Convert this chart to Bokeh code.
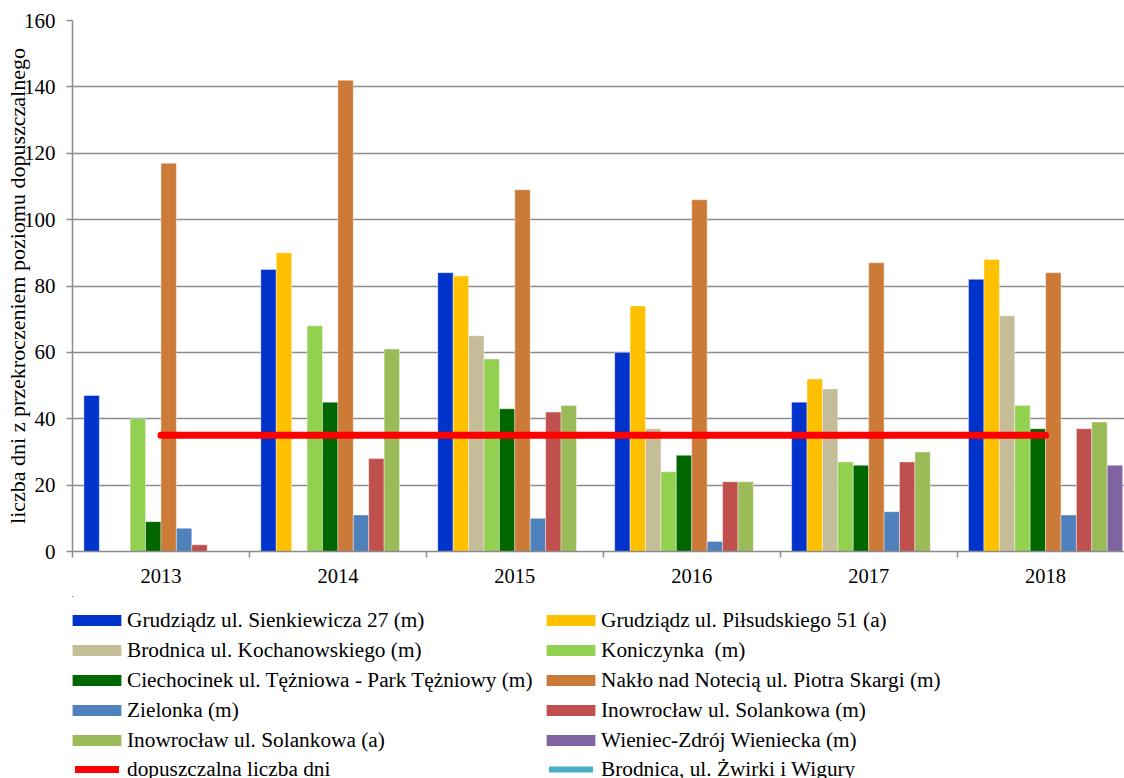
import numpy as np
from bokeh.plotting import figure
from bokeh.layouts import column
from bokeh.models import Range1d, FixedTicker, Legend, LegendItem, ColumnDataSource
from bokeh.transform import dodge
from bokeh.embed import file_html
from bokeh.resources import INLINE

nan = np.nan

years = ["2013", "2014", "2015", "2016", "2017", "2018"]

series_names = [
    "Grudziądz ul. Sienkiewicza 27 (m)",
    "Grudziądz ul. Piłsudskiego 51 (a)",
    "Brodnica ul. Kochanowskiego (m)",
    "Koniczynka  (m)",
    "Ciechocinek ul. Tężniowa - Park Tężniowy (m)",
    "Nakło nad Notecią ul. Piotra Skargi (m)",
    "Zielonka (m)",
    "Inowrocław ul. Solankowa (m)",
    "Inowrocław ul. Solankowa (a)",
    "Wieniec-Zdrój Wieniecka (m)",
]

sienkiewicza = [47, 85, 84, 60, 45, 82]
pilsudskiego = [nan, 90, 83, 74, 52, 88]
kochanowskiego = [nan, nan, 65, 37, 49, 71]
koniczynka = [40, 68, 58, 24, 27, 44]
ciechocinek = [9, 45, 43, 29, 26, 37]
naklo = [117, 142, 109, 106, 87, 84]
zielonka = [7, 11, 10, 3, 12, 11]
inowroclaw_m = [2, 28, 42, 21, 27, 37]
inowroclaw_a = [nan, 61, 44, 21, 30, 39]
wieniec = [nan, nan, nan, nan, nan, 26]

limit_name = "dopuszczalna liczba dni"
limit_days = [35, 35, 35, 35, 35, 35]

brodnica_zwirki_name = "Brodnica, ul. Żwirki i Wigury"
brodnica_zwirki = [nan, nan, nan, nan, nan, nan]

y_ticks = [0, 20, 40, 60, 80, 100, 120, 140, 160]

series_values = [sienkiewicza, pilsudskiego, kochanowskiego, koniczynka, ciechocinek,
                 naklo, zielonka, inowroclaw_m, inowroclaw_a, wieniec]
colors = ["#0033CC", "#FFC000", "#C4BD97", "#92D050", "#006600",
          "#CC7A38", "#4F81BD", "#C0504D", "#9BBB59", "#8064A2"]

FONT = "Liberation Serif"
GRID = "#8C8C8C"

x_centers = [i + 0.5 for i in range(len(years))]
data = {"x": x_centers}
for i, vals in enumerate(series_values):
    data[f"s{i}"] = vals
data["limit"] = limit_days
data["brod"] = brodnica_zwirki
src = ColumnDataSource(data)

CHART_H = 596
FRAME_LEFT = 72
p = figure(width=1124, height=CHART_H, output_backend="svg", toolbar_location=None,
           x_range=Range1d(0, 5.946), y_range=Range1d(0, 160),
           min_border_left=FRAME_LEFT, min_border_right=0, min_border_top=20,
           min_border_bottom=45)
p.outline_line_color = None
p.background_fill_color = "white"

bw = 0.0871
n = len(series_values)
for i, c in enumerate(colors):
    off = (i - (n - 1) / 2) * bw
    p.vbar(x=dodge("x", off, range=p.x_range), top=f"s{i}", width=bw, bottom=0,
           source=src, fill_color=c, line_color="white", line_width=0.8, line_alpha=0.5)

p.line(x="x", y="limit", source=src, line_color="#FF0000", line_width=7, line_cap="round")
p.line(x="x", y="brod", source=src, line_color="#4BACC6", line_width=6, line_cap="round")

# y axis
p.yaxis.ticker = FixedTicker(ticks=y_ticks)
p.yaxis.axis_label = "liczba dni z przekroczeniem poziomu dopuszczalnego"
p.yaxis.axis_label_text_font = FONT
p.yaxis.axis_label_text_font_style = "normal"
p.yaxis.axis_label_text_font_size = "22px"
p.yaxis.axis_label_text_color = "black"
p.yaxis.axis_label_standoff = -9
p.yaxis.major_label_text_font = FONT
p.yaxis.major_label_text_font_size = "21px"
p.yaxis.major_label_text_color = "black"
p.yaxis.major_label_standoff = 11
p.yaxis.major_tick_out = 6
p.yaxis.major_tick_in = 0
p.yaxis.minor_tick_line_color = None
p.yaxis.axis_line_color = GRID
p.yaxis.axis_line_width = 1.5
p.yaxis.major_tick_line_color = GRID
p.yaxis.major_tick_line_width = 1.5

# x axis
p.xaxis.ticker = FixedTicker(ticks=x_centers, minor_ticks=list(range(len(years) + 1)))
p.xaxis.major_label_overrides = {x: y for x, y in zip(x_centers, years)}
p.xaxis.major_label_text_font = FONT
p.xaxis.major_label_text_font_size = "20.5px"
p.xaxis.major_label_text_color = "black"
p.xaxis.major_label_standoff = 11
p.xaxis.major_tick_line_color = None
p.xaxis.major_tick_out = 6
p.xaxis.minor_tick_out = 6
p.xaxis.minor_tick_in = 0
p.xaxis.minor_tick_line_color = GRID
p.xaxis.minor_tick_line_width = 1.5
p.xaxis.axis_line_color = GRID
p.xaxis.axis_line_width = 1.5

p.xgrid.grid_line_color = None
p.ygrid.grid_line_color = GRID
p.ygrid.grid_line_width = 1.5

# legend panel: a second figure below the chart, drawing the same series
# far outside its visible ranges so that only their legend entries show
LEG_H = 778 - CHART_H
lf = figure(width=1124, height=LEG_H, output_backend="svg", toolbar_location=None,
            x_range=Range1d(1000, 1001), y_range=Range1d(-2000, -1999),
            x_axis_location=None, y_axis_location=None,
            min_border_left=0, min_border_right=0, min_border_top=0, min_border_bottom=0)
lf.outline_line_color = None
lf.xgrid.grid_line_color = None
lf.ygrid.grid_line_color = None

leg_renderers = []
for i, c in enumerate(colors):
    leg_renderers.append(lf.vbar(x="x", top=f"s{i}", bottom=0, width=0.1, source=src,
                                 fill_color=c, line_color=None))
lr = lf.line(x="x", y="limit", source=src, line_color="#FF0000", line_width=7, line_cap="round")
br = lf.line(x="x", y="brod", source=src, line_color="#4BACC6", line_width=6, line_cap="round")

ROW_H = 25
SPACING = 5
COL_PITCH = 474
common = dict(orientation="horizontal", ncols=2, label_height=ROW_H, spacing=SPACING,
              padding=0, margin=0, border_line_color=None, background_fill_alpha=0,
              label_text_font=FONT, label_text_font_size="21.3px", label_text_color="black")

# bar entries (5 rows)
bar_items = [LegendItem(label=name, renderers=[r]) for name, r in zip(series_names, leg_renderers)]
gw1, box1, sto1 = 61, 66, 0
bar_h = 5 * ROW_H + 4 * SPACING
bar_top = 620 - ROW_H / 2 - CHART_H
legend_bars = Legend(items=bar_items,
                     location=(box1 - FRAME_LEFT, LEG_H - bar_top - bar_h),
                     glyph_width=gw1, glyph_height=14, label_standoff=sto1,
                     label_width=COL_PITCH - gw1 - sto1 - SPACING, **common)
lf.add_layout(legend_bars, "center")

# line entries (6th row)
line_items = [LegendItem(label=limit_name, renderers=[lr]),
              LegendItem(label=brodnica_zwirki_name, renderers=[br])]
gw2, box2, sto2 = 44, 75, 8
line_top = 769 - ROW_H / 2 - CHART_H
legend_lines = Legend(items=line_items,
                      location=(box2 - FRAME_LEFT, LEG_H - line_top - ROW_H),
                      glyph_width=gw2, glyph_height=14, label_standoff=sto2,
                      label_width=COL_PITCH - gw2 - sto2 - SPACING, **common)
lf.add_layout(legend_lines, "center")

layout = column(p, lf, spacing=0)
open("out.html", "w").write(file_html(layout, INLINE))
